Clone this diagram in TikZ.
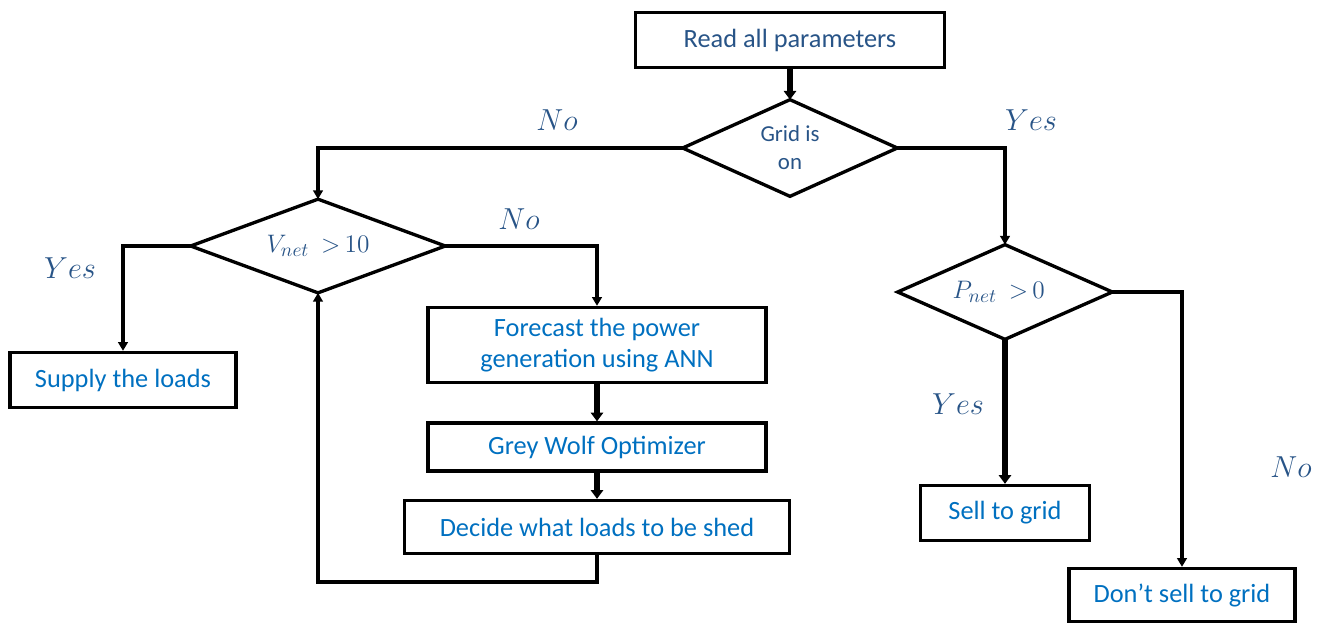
\documentclass[tikz,border=0pt]{standalone}
\usepackage{fontspec}
\setmainfont{Carlito}
\usetikzlibrary{arrows.meta}
\definecolor{darkblue}{RGB}{40,84,135}
\definecolor{boxblue}{RGB}{0,112,192}
\tikzset{
  flowbox/.style={draw, line width=1.9pt, inner sep=0pt, align=center, text=boxblue, font=\fontsize{15}{18}\selectfont},
  decision/.style={inner sep=0pt, align=center, text=darkblue},
  diaedge/.style={line width=1.9pt, line join=miter},
  conn/.style={line width=1.8pt, -{Triangle[length=5pt,width=5.5pt]}},
  thickconn/.style={line width=3.4pt, -{Triangle[length=5pt,width=7pt]}},
  lbl/.style={text=darkblue, font=\fontsize{16}{18}\selectfont, inner sep=0pt}
}
\begin{document}
\begin{tikzpicture}[x=0.02cm,y=-0.02cm]
\useasboundingbox (0,0) rectangle (1320,623);
% boxes
\node[flowbox, text=darkblue, minimum width=6.18cm, minimum height=1.1cm] (read) at (790,40) {Read all parameters};
\node[decision, minimum width=4.28cm, minimum height=1.92cm, font=\fontsize{13}{16}\selectfont] (grid) at (790,148) {Grid is\\on};
\node[decision, minimum width=5.08cm, minimum height=1.86cm, font=\fontsize{15}{18}\selectfont] (vnet) at (318,246) {$V_{net}\ \ {>}\,10$};
\node[decision, minimum width=4.28cm, minimum height=1.88cm, font=\fontsize{15}{18}\selectfont] (pnet) at (1005,292) {\hspace*{-0.25cm}$P_{net}\ \ {>}\,0$};
\foreach \d in {grid,vnet,pnet}
  \draw[diaedge] (\d.west) -- (\d.north) -- (\d.east) -- (\d.south) -- cycle;
\node[flowbox, minimum width=4.52cm, minimum height=1.1cm] (supply) at (123,380) {Supply the loads};
\node[flowbox, minimum width=6.76cm, minimum height=1.5cm] (forecast) at (597,345) {Forecast the power\\generation using ANN};
\node[flowbox, minimum width=6.76cm, minimum height=0.96cm] (grey) at (597,447) {Grey Wolf Optimizer};
\node[flowbox, minimum width=7.7cm, minimum height=1.06cm] (decide) at (597,527) {Decide what loads to be shed};
\node[flowbox, minimum width=3.38cm, minimum height=1.1cm] (sell) at (1005,513) {Sell to grid};
\node[flowbox, minimum width=4.52cm, minimum height=1.06cm] (dont) at (1182,595) {Don’t sell to grid};
% connectors
\draw[thickconn] (read.south) -- (grid.north);
\draw[conn] (grid.west) -| (vnet.north);
\draw[conn] (grid.east) -| (pnet.north);
\draw[conn] (vnet.west) -| (supply.north);
\draw[conn] (vnet.east) -| (forecast.north);
\draw[thickconn] (forecast.south) -- (grey.north);
\draw[thickconn] (grey.south) -- (decide.north);
\coordinate (loop) at (597,582);
\draw[conn] (decide.south) -- (loop) -| (vnet.south);
\draw[thickconn] (pnet.south) -- (sell.north);
\draw[conn] (pnet.east) -| (dont.north);
% labels
\node[lbl] (no1) at (557,120) {$No$};
\node[lbl] (yes1) at (1031,120) {$Yes$};
\node[lbl] (no2) at (519,219) {$No$};
\node[lbl] (yes2) at (70,268) {$Yes$};
\node[lbl] (yes3) at (958,404) {$Yes$};
\node[lbl] (no3) at (1291,467) {$No$};
\end{tikzpicture}
\end{document}
